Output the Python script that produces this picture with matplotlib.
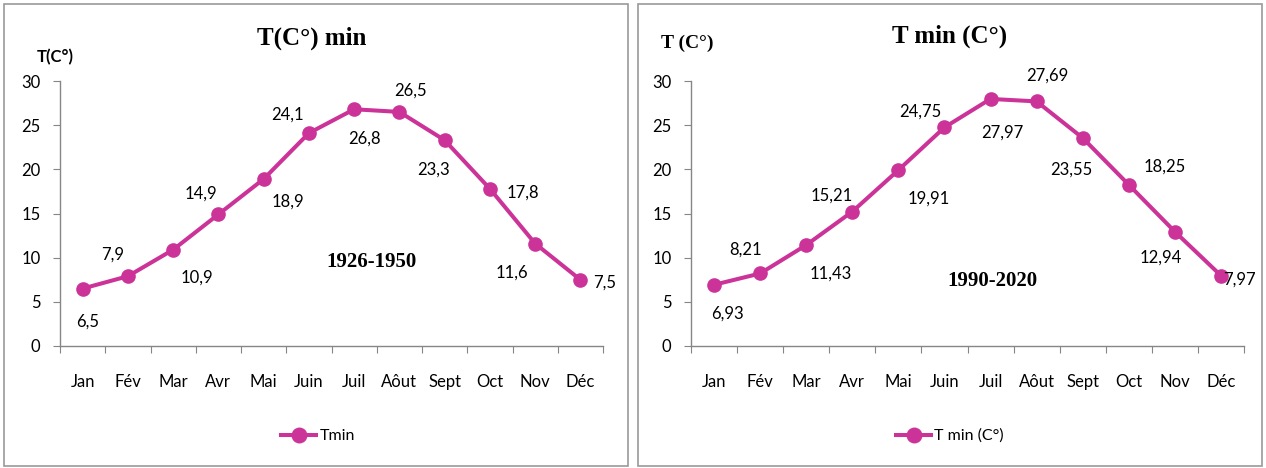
import matplotlib
matplotlib.use("Agg")
import matplotlib.pyplot as plt
from matplotlib import font_manager
from matplotlib.patches import Rectangle

# ---------------- data ----------------
months = ["Jan", "Fév", "Mar", "Avr", "Mai", "Juin", "Juil", "Aôut", "Sept", "Oct", "Nov", "Déc"]
tmin_1926_1950 = [6.5, 7.9, 10.9, 14.9, 18.9, 24.1, 26.8, 26.5, 23.3, 17.8, 11.6, 7.5]
tmin_1990_2020 = [6.93, 8.21, 11.43, 15.21, 19.91, 24.75, 27.97, 27.69, 23.55, 18.25, 12.94, 7.97]
labels_1926_1950 = ["6,5", "7,9", "10,9", "14,9", "18,9", "24,1", "26,8", "26,5", "23,3", "17,8", "11,6", "7,5"]
labels_1990_2020 = ["6,93", "8,21", "11,43", "15,21", "19,91", "24,75", "27,97", "27,69", "23,55", "18,25", "12,94", "7,97"]
yticks = [0, 5, 10, 15, 20, 25, 30]

# ---------------- layout (label offsets in pixels, x right / y down) ----------------
off_left = [(5, 33), (-15, -22), (24, 28), (-17, -21), (24, 23), (-21, -18),
            (10, 29), (11, -21), (-11, 29), (33, 4), (-23, 29), (24, 3)]
off_right = [(13, 29), (-15, -24), (25, 29), (-21, -16), (30, 28), (-24, -16),
             (12, 34), (11, -26), (-11, 32), (36, -18), (-14, 26), (18, 4)]

names = {f.name for f in font_manager.fontManager.ttflist}
SANS = "Liberation Sans Narrow" if "Liberation Sans Narrow" in names else "Lato"
SERIF = "Liberation Serif"
plt.rcParams["font.family"] = [SANS, "DejaVu Sans"]

COLOR = "#CC3399"
FS = 12
W, H = 1266, 468
fig = plt.figure(figsize=(W / 100, H / 100), dpi=100)
fig.patch.set_facecolor("white")

# panel borders
for (x0, x1) in [(4, 628), (638, 1262)]:
    fig.patches.append(Rectangle((x0 / W, 1 - 466 / H), (x1 - x0) / W, (466 - 4) / H,
                                 transform=fig.transFigure, fill=False,
                                 edgecolor="#9a9a9a", linewidth=1.2))


def make_panel(ax_rect, values, lbls, offs, legend_label, legend_center_x):
    ax = fig.add_axes(ax_rect)
    x = list(range(len(months)))
    line, = ax.plot(x, values, color=COLOR, linewidth=2.9, marker="o",
                    markersize=9.5, label=legend_label, zorder=3)
    ax.set_xlim(-0.5, len(months) - 0.5)
    ax.set_ylim(0, 30)
    ax.set_yticks(yticks)
    ax.set_xticks([i - 0.5 for i in range(len(months) + 1)])
    ax.set_xticklabels([])
    ax.set_xticks(x, minor=True)
    ax.set_xticklabels(months, minor=True, fontsize=FS)
    ax.tick_params(axis="x", which="minor", length=0, pad=20)
    ax.tick_params(axis="x", which="major", length=5, color="#868686", direction="out")
    ax.tick_params(axis="y", length=5, color="#868686", pad=9, labelsize=FS)
    for s in ["top", "right"]:
        ax.spines[s].set_visible(False)
    for s in ["left", "bottom"]:
        ax.spines[s].set_color("#868686")
        ax.spines[s].set_linewidth(1.0)
    for xi, v, t, (dx, dy) in zip(x, values, lbls, offs):
        ax.annotate(t, (xi, v), xytext=(dx * 0.72, -dy * 0.72), textcoords="offset points",
                    ha="center", va="center", fontsize=FS)
    fig.legend(handles=[line], loc="center", bbox_to_anchor=(legend_center_x / W, 1 - 436 / H),
               frameon=False, fontsize=11.5, handlelength=2.2, handletextpad=0.2,
               markerscale=1.1)
    return ax


axL = make_panel([60 / W, 1 - 346 / H, 543 / W, 265 / H], tmin_1926_1950,
                 labels_1926_1950, off_left, "Tmin", 318)
axR = make_panel([691 / W, 1 - 346 / H, 553 / W, 265 / H], tmin_1990_2020,
                 labels_1990_2020, off_right, "T min (C°)", 950)

# titles and axis labels
fig.text(312 / W, 1 - 38 / H, "T(C°) min", family=SERIF, fontweight="bold",
         fontsize=18, ha="center", va="center")
fig.text(950 / W, 1 - 36 / H, "T min (C°)", family=SERIF, fontweight="bold",
         fontsize=18, ha="center", va="center")
fig.text(55 / W, 1 - 57 / H, "T(C°)", fontweight="bold", fontsize=12,
         ha="center", va="center")
fig.text(687 / W, 1 - 43 / H, "T (C°)", family=SERIF, fontweight="bold",
         fontsize=14, ha="center", va="center")
fig.text(371 / W, 1 - 262 / H, "1926-1950", family=SERIF, fontweight="bold",
         fontsize=15, ha="center", va="center")
fig.text(992 / W, 1 - 281 / H, "1990-2020", family=SERIF, fontweight="bold",
         fontsize=15, ha="center", va="center")

fig.savefig("out.png", dpi=100, facecolor="white")
